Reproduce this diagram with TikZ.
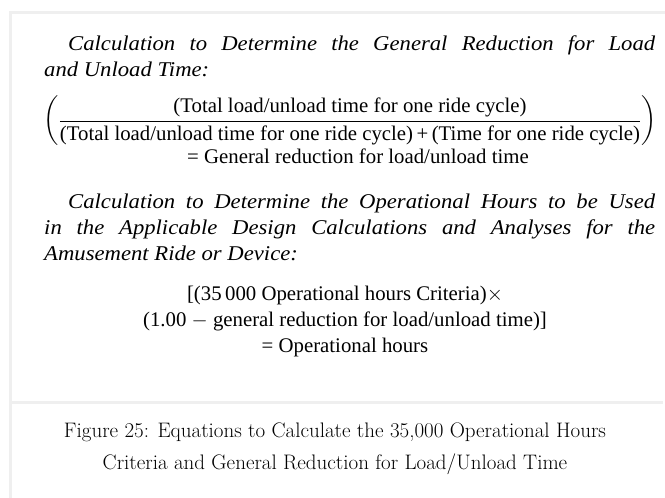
\documentclass[tikz,border=0pt]{standalone}
\usepackage{amsmath}
\usepackage{fontspec}
\newfontfamily\eqfont{Liberation Serif}
\newfontfamily\headfont[FakeStretch=1.08]{Liberation Serif}
\usetikzlibrary{positioning}
\definecolor{framegray}{HTML}{EFEFEF}

\begin{document}
\begin{tikzpicture}[x=1pt, y=1pt, node distance=0pt,
    frame/.style = {draw=framegray, line width=3pt},
    head/.style  = {anchor=north west, inner sep=0pt, text width=611pt, align=justify,
                    font=\headfont\itshape\fontsize{21}{26}\selectfont},
    eq/.style    = {anchor=base, inner sep=0pt, align=center,
                    font=\eqfont\fontsize{20.8}{26}\selectfont},
    capt/.style  = {anchor=base, inner sep=0pt, align=center,
                    font=\fontsize{21}{32}\selectfont} ]
\useasboundingbox (0,0) rectangle (665,-498);

% light frame round the equations
\draw[frame] (665,-12) -- (10,-12) -- (10,-498);
\draw[frame] (10,-402) -- (663,-402);

% first calculation
\node (headA) [head] at (44,-35.5)
  {\hspace*{24pt}Calculation to Determine the General Reduction for Load\linebreak
   and Unload Time:};
\node (fracA) [eq, anchor=center] at (350,-121)
  {$\left(\dfrac{\mbox{(Total load/unload time for one ride cycle)}}
   {\mbox{(Total load/unload time for one ride cycle)\,+\,(Time for one ride cycle)}}\right)$};
\node (resA) [eq] at (358,-163) {= General reduction for load/unload time};

% second calculation
\node (headB) [head] at (44,-193.5)
  {\hspace*{24pt}Calculation to Determine the Operational Hours to be Used\linebreak
   in the Applicable Design Calculations and Analyses for the\linebreak
   Amusement Ride or Device:};
\node (eqB) [eq] at (345,-352)
  {[(35\,000 Operational hours Criteria)$\times$\\
   (1.00 $-$ general reduction for load/unload time)]\\
   = Operational hours};

% caption
\node (cap) [capt] at (335,-469)
  {Figure 25: Equations to Calculate the 35,000 Operational Hours\\
   Criteria and General Reduction for Load/Unload Time};
\end{tikzpicture}
\end{document}
